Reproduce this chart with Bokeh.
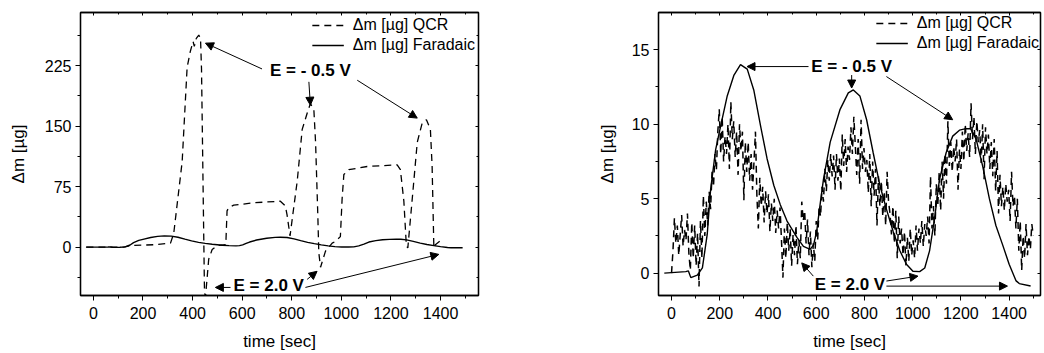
from bokeh.plotting import figure
from bokeh.layouts import row
from bokeh.models import (FixedTicker, LinearAxis, Range1d, Arrow, NormalHead,
                          Label, Legend, LegendItem, CustomLabelingPolicy)
from bokeh.embed import file_html
from bokeh.resources import INLINE

FONT = "Liberation Sans"

# ---------------- data ----------------
# tick labels
x_ticks = [0, 200, 400, 600, 800, 1000, 1200, 1400]
x_minor = [100, 300, 500, 700, 900, 1100, 1300, 1500]
ya_ticks = [0, 75, 150, 225]
ya_minor = [-37.5, 37.5, 112.5, 187.5, 262.5]
yb_ticks = [0, 5, 10, 15]
yb_minor = [-2.5, 2.5, 7.5, 12.5]

# left panel: QCR mass change (large scale)
qcr_a_t = [-28, 0, 122, 149, 250, 311, 324, 358, 378, 391, 402, 407, 415, 425, 432,
           436, 448, 452, 465, 479, 499, 534, 539, 546, 566, 647, 754, 774, 781, 793,
           822, 842, 862, 875, 889, 896, 905, 909, 916, 936, 963, 976, 996, 1003, 1010,
           1030, 1104, 1225, 1238, 1252, 1262, 1268, 1285, 1306, 1326, 1343, 1359, 1366,
           1373, 1379, 1400]
qcr_a_m = [0, 0, 0, 2, 3, 5, 17, 106, 223, 243, 255, 249, 259, 263, 259,
           221, -56, -62, -15, -3, 2, 3, 45, 49, 52, 55, 57, 51, 40, 14,
           82, 146, 166, 178, 171, 130, 40, -7, -25, -5, 5, 7, 13, 60, 90,
           96, 100, 102, 96, 57, 2, -1, 57, 130, 154, 158, 146, 100,
           -1, 3, 8]

# Faradaic mass change (same curve in both panels)
far_t = [-30, 59, 70, 80, 107, 128, 148, 162, 183, 204, 231, 259, 286, 314, 341, 369,
         396, 424, 451, 479, 520, 547, 575, 589, 602, 616, 630, 658, 699, 733, 754, 781,
         809, 836, 864, 891, 919, 947, 974, 1001, 1029, 1050, 1070, 1091, 1111, 1139,
         1166, 1194, 1221, 1240, 1263, 1290, 1318, 1345, 1373, 1400, 1428, 1442, 1489]
far_m = [0, 0.1, 0.15, -0.3, -0.13, 0.35, 2.6, 5.6, 8.3, 9.9, 11.9, 13.3, 14.0, 13.7,
         12.3, 9.9, 7.7, 5.9, 4.6, 3.5, 2.4, 1.8, 1.6, 1.9, 2.8, 4.6, 6.3, 8.8, 11.0,
         12.1, 12.3, 11.9, 10.3, 8.1, 5.9, 4.3, 2.8, 1.5, 0.6, 0.13, 0.1, 0.35, 1.5, 3.7,
         6.3, 8.1, 9.2, 9.6, 9.7, 9.7, 9.0, 7.2, 5.0, 3.2, 1.9, 0.6, -0.5, -0.7, -0.86]

# right panel: QCR mass change, read every 6 s
qcr_b_t = list(range(0, 1501, 6))
qcr_b_m = [
    0.0, 1.5, 3.7, 2.0, 3.2, 1.2, 2.6, 3.9, 1.8, 2.9,
    2.2, 4.0, 1.3, 0.2, 3.4, 1.0, 3.2, 0.5, 2.7, -0.9,
    3.5, 1.0, 5.2, 2.5, 4.8, 3.2, 5.5, 4.3, 6.8, 5.8,
    8.0, 6.9, 9.5, 11.0, 8.0, 10.5, 7.5, 9.2, 8.0, 10.0,
    7.0, 11.5, 9.0, 10.2, 7.8, 9.5, 6.6, 10.0, 8.2, 9.5,
    4.9, 8.8, 6.8, 8.8, 6.2, 8.0, 5.6, 7.5, 9.5, 5.2,
    3.0, 6.4, 4.5, 5.8, 3.4, 5.5, 4.0, 5.3, 2.8, 4.7,
    3.5, 5.0, 2.7, 4.2, 3.0, 4.4, 2.2, -0.3, 3.0, 1.0,
    3.4, 1.5, 3.0, 0.5, 2.6, 1.2, 3.2, 0.6, 2.2, 1.0,
    4.8, 3.5, 4.2, 2.0, 3.6, 1.2, 2.8, 0.4, 2.0, 0.8,
    3.5, 2.2, 4.5, 3.8, 5.8, 4.8, 7.0, 5.5, 7.6, 6.2,
    8.0, 6.5, 7.9, 5.6, 8.0, 6.2, 7.7, 5.5, 9.3, 7.2,
    9.0, 6.8, 8.5, 7.6, 9.8, 8.0, 10.5, 8.6, 6.6, 9.0,
    6.0, 10.3, 7.0, 8.4, 6.8, 7.6, 5.4, 8.0, 4.5, 7.5,
    5.2, 7.0, 3.2, 6.5, 4.5, 6.2, 3.8, 5.5, 3.2, 6.8,
    4.8, 4.0, 2.6, 4.5, 2.0, 4.2, 1.0, 3.8, 2.0, 3.0,
    1.2, 2.8, 0.5, 2.4, 0.8, 3.0, 1.2, 2.2, 1.0, 3.2,
    1.5, 3.0, 2.0, 3.5, 1.8, 3.3, 2.5, 3.8, 2.0, 6.5,
    3.0, 4.5, 2.5, 6.0, 4.5, 6.8, 4.2, 7.5, 5.0, 8.0,
    6.0, 10.2, 7.2, 8.8, 6.8, 8.5, 7.5, 9.0, 5.6, 8.3,
    7.0, 9.5, 7.5, 10.0, 8.2, 9.4, 7.8, 11.4, 9.0, 10.5,
    8.0, 10.2, 8.8, 9.6, 7.4, 10.0, 6.3, 9.8, 8.0, 9.3,
    7.0, 8.8, 6.5, 9.0, 5.5, 8.2, 4.0, 6.6, 4.5, 5.8,
    4.2, 6.0, 4.8, 5.6, 3.5, 6.8, 4.5, 5.2, 3.0, 5.0,
    1.5, 3.5, 0.2, 2.5, 1.0, 3.3, 1.2, 2.5, 1.6, 3.3,
    2.5]

# annotations (data coordinates): arrows (x0, y0, x1, y1) and labels (text, x, y)
arrows_a = [(680, 221, 452, 253), (869, 205, 875, 176), (1064, 207, 1306, 160),
            (553, -50, 492, -50), (862, -40, 902, -30), (855, -50, 1393, -9)]
labels_a = [("E = - 0.5 V", 875, 219), ("E = 2.0 V", 707, -48)]
arrows_b = [(568, 13.87, 313, 13.87), (747, 13.3, 747, 12.43), (891, 13.2, 1166, 10.3),
            (588, -0.2, 540, 0.69), (891, -0.53, 1022, -0.2), (891, -0.87, 1393, -0.87)]
labels_b = [("E = - 0.5 V", 747, 13.87), ("E = 2.0 V", 740, -0.76)]

HIDE_ALL = """
const ids = [...indices];
for (const i of ids) { indices.unset(i) }
return indices
"""


def style_axis(ax, ticker, main=True):
    ax.ticker = ticker
    ax.axis_line_color = "black"
    ax.axis_line_width = 1.3
    ax.major_tick_line_color = "black"
    ax.minor_tick_line_color = "black"
    ax.major_tick_line_width = 1
    ax.minor_tick_line_width = 1
    if main:
        ax.major_tick_in = 0
        ax.minor_tick_in = 0
        ax.major_tick_out = 5
        ax.minor_tick_out = 3
        ax.major_label_text_font = FONT
        ax.major_label_text_font_size = "16px"
        ax.major_label_text_color = "black"
        ax.axis_label_text_font = FONT
        ax.axis_label_text_font_size = "17px"
        ax.axis_label_text_font_style = "normal"
        ax.axis_label_text_color = "black"
    else:
        ax.major_tick_out = 0
        ax.minor_tick_out = 0
        ax.major_tick_in = 3
        ax.minor_tick_in = 2
        ax.major_label_policy = CustomLabelingPolicy(code=HIDE_ALL)
        ax.major_label_text_font_size = "1px"
        ax.major_label_standoff = 0


def make_panel(width, xr, yr, borders, yt, ym, qt, qm, qw, legend_pad, arrows, labels,
               ylab_standoff):
    bl, br, bt, bb = borders
    p = figure(width=width, height=353, x_range=Range1d(*xr), y_range=Range1d(*yr),
               output_backend="svg", toolbar_location=None,
               min_border_left=bl, min_border_right=br, min_border_top=bt,
               min_border_bottom=bb, x_axis_label="time [sec]",
               y_axis_label="\u0394m [\u00b5g]")
    p.xgrid.visible = False
    p.ygrid.visible = False
    p.outline_line_color = "black"
    p.outline_line_width = 1.3
    p.outline_line_alpha = 1
    style_axis(p.xaxis[0], FixedTicker(ticks=x_ticks, minor_ticks=x_minor))
    style_axis(p.yaxis[0], FixedTicker(ticks=yt, minor_ticks=ym))
    p.xaxis[0].major_label_standoff = 6
    p.xaxis[0].axis_label_standoff = 10
    p.yaxis[0].major_label_standoff = 4
    p.yaxis[0].axis_label_standoff = ylab_standoff
    top = LinearAxis()
    style_axis(top, FixedTicker(ticks=x_ticks, minor_ticks=x_minor), main=False)
    p.add_layout(top, "above")
    right = LinearAxis()
    style_axis(right, FixedTicker(ticks=yt, minor_ticks=ym), main=False)
    p.add_layout(right, "right")

    r1 = p.line(qt, qm, line_color="black", line_width=qw, line_dash="7 5")
    r2 = p.line(far_t, far_m, line_color="black", line_width=1.4)
    legend = Legend(items=[LegendItem(label="\u0394m [\u00b5g] QCR", renderers=[r1]),
                           LegendItem(label="\u0394m [\u00b5g] Faradaic", renderers=[r2])],
                    location="top_right", border_line_color=None,
                    background_fill_alpha=0, label_text_font=FONT,
                    label_text_font_size="16px", label_text_color="black",
                    glyph_width=32, glyph_height=20, label_height=20,
                    label_standoff=9, padding=legend_pad, margin=legend_pad, spacing=0)
    p.add_layout(legend)

    for (x0, y0, x1, y1) in arrows:
        p.add_layout(Arrow(end=NormalHead(size=8, fill_color="black", line_color="black",
                                          line_width=1),
                           x_start=x0, y_start=y0, x_end=x1, y_end=y1,
                           line_color="black", line_width=1))
    for (txt, x, y) in labels:
        p.add_layout(Label(x=x, y=y, text=txt, text_font=FONT, text_font_size="17px",
                           text_font_style="bold", text_align="center",
                           text_baseline="middle", text_color="black"))
    return p


pa = make_panel(520, (-52, 1553), (-60, 291), (80, 42, 7, 56), ya_ticks, ya_minor,
                qcr_a_t, qcr_a_m, 1.3, 3, arrows_a, labels_a, 14)
pb = make_panel(524, (-54, 1530), (-1.5, 17.5), (138, 2, 12, 55), yb_ticks, yb_minor,
                qcr_b_t, qcr_b_m, 1.5, 1, arrows_b, labels_b, 12)

layout = row(pa, pb, spacing=0)
open("out.html", "w").write(file_html(layout, INLINE))
